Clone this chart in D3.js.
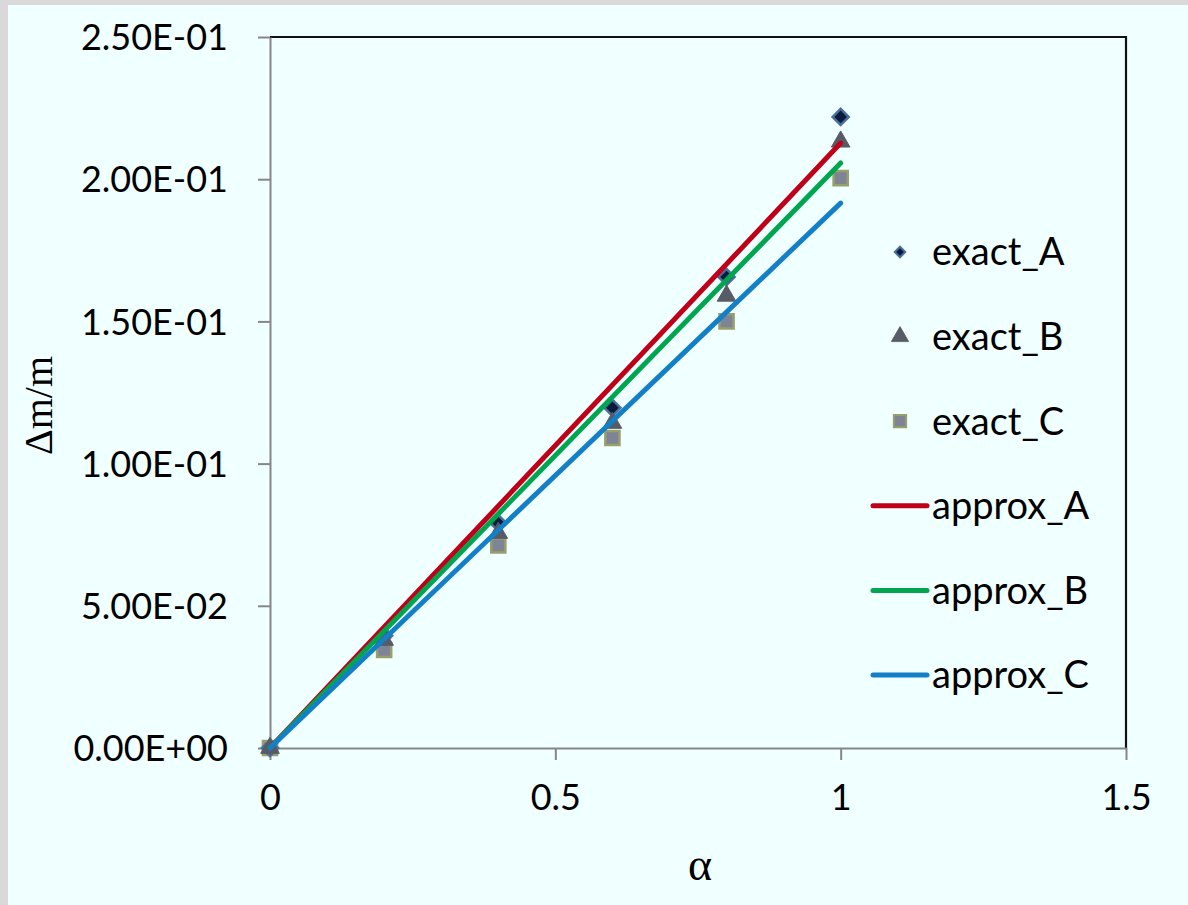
<!DOCTYPE html>
<html>
<head>
<meta charset="utf-8">
<script src="https://cdn.jsdelivr.net/npm/d3@7"></script>
<style>
  html, body { margin: 0; padding: 0; background: #d9d9d9; }
  svg { display: block; }
</style>
</head>
<body>
<script>
'use strict';

// data
var alpha   = [0, 0.2, 0.4, 0.6, 0.8, 1];
var exactA  = [0, 0.0395, 0.0791, 0.1196, 0.1656, 0.2219];
var exactB  = [0, 0.0380, 0.0756, 0.1143, 0.1590, 0.2132];
var exactC  = [0, 0.0345, 0.0712, 0.1090, 0.1500, 0.2004];
var lineAlpha = [0, 1];
var approxA = [0, 0.2127];
var approxB = [0, 0.2057];
var approxC = [0, 0.1916];
var yTicks = [0, 0.05, 0.10, 0.15, 0.20, 0.25];
var xTicks = [0, 0.5, 1, 1.5];

var W = 1188, H = 905;
var margin = {left: 270, top: 37, right: 62, bottom: 157};
var pw = W - margin.left - margin.right, ph = H - margin.top - margin.bottom;

var svg = d3.select('body').append('svg').attr('width', W).attr('height', H);

// grey frame then the light cyan sheet
svg.append('rect').attr('width', W).attr('height', H).attr('fill', '#d9d9d9');
svg.append('rect').attr('x', 8).attr('y', 5).attr('width', W - 8).attr('height', H - 5).attr('fill', '#f0ffff');

var x = d3.scaleLinear().domain([0, 1.5]).range([0, pw]);
var y = d3.scaleLinear().domain([0, 0.25]).range([ph, 0]);

var g = svg.append('g').attr('transform', 'translate(' + margin.left + ',' + margin.top + ')');

function sci(v) {
  if (v === 0) return '0.00E+00';
  var e = Math.floor(Math.log10(v) + 1e-9);
  var m = v / Math.pow(10, e);
  var s = e < 0 ? '-' : '+';
  return m.toFixed(2) + 'E' + s + (Math.abs(e) < 10 ? '0' : '') + Math.abs(e);
}

var font = 'Lato, "Open Sans", sans-serif';
var serif = '"Liberation Serif", "DejaVu Serif", serif';

// top and right border
g.append('path')
  .attr('d', 'M0,0H' + pw + 'V' + ph)
  .attr('fill', 'none').attr('stroke', '#111').attr('stroke-width', 2.2);

var yAxis = g.append('g').call(d3.axisLeft(y).tickValues(yTicks).tickFormat(sci).tickSize(12).tickSizeOuter(0));
var xAxis = g.append('g').attr('transform', 'translate(0,' + ph + ')')
  .call(d3.axisBottom(x).tickValues(xTicks).tickFormat(d3.format('')).tickSize(12).tickSizeOuter(0));

[yAxis, xAxis].forEach(function(a) {
  a.select('.domain').attr('stroke', '#868686').attr('stroke-width', 2);
  a.selectAll('.tick line').attr('stroke', '#868686').attr('stroke-width', 2);
  a.selectAll('.tick text').attr('fill', '#000').style('font-family', font).style('font-size', '36px');
});
yAxis.selectAll('.tick text').attr('x', -42).attr('dy', '0.35em');
xAxis.selectAll('.tick text').attr('y', 36);

// axis titles
svg.append('text')
  .attr('transform', 'translate(52,455) rotate(-90)')
  .attr('text-anchor', 'start')
  .style('font-family', serif).style('font-size', '40px')
  .text('\u0394m/m');
svg.append('text')
  .attr('x', margin.left + pw / 2 + 2).attr('y', 880)
  .attr('text-anchor', 'middle')
  .style('font-family', serif).style('font-size', '46px')
  .text('\u03b1');

// markers (square rotated 45deg gives the diamond)
var markerSets = [
  {name: 'exact_A', vals: exactA, type: d3.symbolSquare, rot: 45, size: 130, fill: '#0c1b3a', stroke: '#4a6f9c', sw: 2.5, legSize: 55},
  {name: 'exact_B', vals: exactB, type: d3.symbolTriangle, rot: 0, size: 150, fill: '#575b66', stroke: '#575b66', sw: 1, legSize: 130},
  {name: 'exact_C', vals: exactC, type: d3.symbolSquare, rot: 0, size: 200, fill: '#7f8396', stroke: '#98a06a', sw: 2.5, legSize: 150}
];

[2, 0, 1].forEach(function(k) {
  var s = markerSets[k];
  g.append('g').selectAll('path').data(alpha).join('path')
    .attr('transform', function(d, i) { return 'translate(' + x(d) + ',' + y(s.vals[i]) + ') rotate(' + s.rot + ')'; })
    .attr('d', d3.symbol().type(s.type).size(s.size))
    .attr('fill', s.fill).attr('stroke', s.stroke).attr('stroke-width', s.sw);
});

// approximation lines
var lineSets = [
  {name: 'approx_A', vals: approxA, color: '#c00018'},
  {name: 'approx_B', vals: approxB, color: '#00a550'},
  {name: 'approx_C', vals: approxC, color: '#137fc6'}
];
var line = d3.line().x(function(d) { return x(d[0]); }).y(function(d) { return y(d[1]); });
lineSets.forEach(function(s) {
  g.append('path')
    .datum(lineAlpha.map(function(a, i) { return [a, s.vals[i]]; }))
    .attr('d', line)
    .attr('fill', 'none').attr('stroke', s.color).attr('stroke-width', 5).attr('stroke-linecap', 'round');
});

// legend
var leg = svg.append('g');
var rowY = 252, rowH = 84.6;
markerSets.forEach(function(s, i) {
  var yy = rowY + i * rowH;
  leg.append('path')
    .attr('transform', 'translate(900,' + yy + ') rotate(' + s.rot + ')')
    .attr('d', d3.symbol().type(s.type).size(s.legSize))
    .attr('fill', s.fill).attr('stroke', s.stroke).attr('stroke-width', s.sw * 0.8);
  leg.append('text').attr('x', 932).attr('y', yy).attr('dy', '0.35em')
    .style('font-family', font).style('font-size', '38px').text(s.name);
});
lineSets.forEach(function(s, i) {
  var yy = rowY + (i + 3) * rowH;
  leg.append('line').attr('x1', 873).attr('x2', 927).attr('y1', yy).attr('y2', yy)
    .attr('stroke', s.color).attr('stroke-width', 5).attr('stroke-linecap', 'round');
  leg.append('text').attr('x', 932).attr('y', yy).attr('dy', '0.35em')
    .style('font-family', font).style('font-size', '38px').text(s.name);
});
</script>
</body>
</html>
